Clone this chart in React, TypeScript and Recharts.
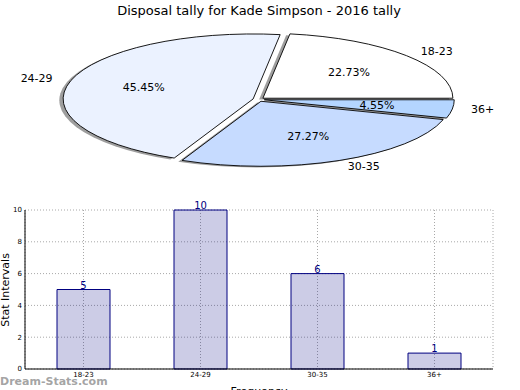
import React from 'react';
import { PieChart, Pie, Cell, BarChart, Bar, XAxis, YAxis, CartesianGrid, LabelList } from 'recharts';

const categories = ['18-23', '24-29', '30-35', '36+'];
const tallies = [5, 10, 6, 1];
const yTicks = [0, 2, 4, 6, 8, 10];
const pieColors = ['#ffffff', '#ebf2ff', '#c6dbff', '#b4d5ff'];

const chartData = categories.map((name, i) => ({ name, value: tallies[i] }));

const FONT = 'DejaVu Sans, Verdana, sans-serif';
const CX = 258.6;
const CY = 99.5;
const RX = 190;
const RY = 65;
const EXPLODE = 0.03;

const rad = Math.PI / 180;

function ellipsePath(cx: number, cy: number, a0: number, a1: number) {
  const s = Math.min(a0, a1);
  const e = Math.max(a0, a1);
  const x0 = cx + RX * Math.cos(s * rad);
  const y0 = cy - RY * Math.sin(s * rad);
  const x1 = cx + RX * Math.cos(e * rad);
  const y1 = cy - RY * Math.sin(e * rad);
  const large = e - s > 180 ? 1 : 0;
  return `M${cx},${cy} L${x0},${y0} A${RX},${RY} 0 ${large} 0 ${x1},${y1} Z`;
}

function offsetFor(mid: number) {
  return { ox: EXPLODE * RX * Math.cos(mid * rad), oy: -EXPLODE * RY * Math.sin(mid * rad) };
}

const renderSector = (p: any) => {
  const mid = (p.startAngle + p.endAngle) / 2;
  const { ox, oy } = offsetFor(mid);
  return (
    <path
      d={ellipsePath(p.cx + ox, p.cy + oy, p.startAngle, p.endAngle)}
      fill={p.fill}
      stroke="#000"
      strokeWidth={0.9}
      strokeLinejoin="miter"
    />
  );
};

const renderShadow = (p: any) => {
  const mid = (p.startAngle + p.endAngle) / 2;
  const { ox, oy } = offsetFor(mid);
  return (
    <path
      d={ellipsePath(p.cx + ox - 3.8, p.cy + oy + 1.3, p.startAngle, p.endAngle)}
      fill="#000"
      fillOpacity={0.38}
      stroke="none"
    />
  );
};

const renderLabel = (p: any) => {
  const mid = p.midAngle;
  const c = Math.cos(mid * rad);
  const s = Math.sin(mid * rad);
  const { ox, oy } = offsetFor(mid);
  const lx = p.cx + ox + 1.1 * RX * c;
  const ly = p.cy + oy - 1.1 * RY * s;
  const px = p.cx + ox + 0.6 * RX * c;
  const py = p.cy + oy - 0.6 * RY * s;
  return (
    <g>
      <text x={lx} y={ly} textAnchor={c > 0 ? 'start' : 'end'} dominantBaseline="central" fontSize={11} fill="#000" fontFamily={FONT}>
        {p.name}
      </text>
      <text x={px} y={py} textAnchor="middle" dominantBaseline="central" fontSize={11} fill="#000" fontFamily={FONT}>
        {`${(p.percent * 100).toFixed(2)}%`}
      </text>
    </g>
  );
};

export default function App() {
  return (
    <div style={{ position: 'fixed', left: 0, top: 0, width: 520, height: 390, background: '#fff', fontFamily: FONT, overflow: 'hidden' }}>
      <div style={{ position: 'absolute', left: 0, top: 0 }}>
        <PieChart width={520} height={195} margin={{ top: 0, right: 0, bottom: 0, left: 0 }}>
          <Pie
            data={chartData}
            dataKey="value"
            nameKey="name"
            cx={CX}
            cy={CY}
            outerRadius={RX}
            startAngle={0}
            endAngle={360}
            isAnimationActive={false}
            shape={renderShadow}
            inactiveShape={renderShadow}
            activeShape={renderShadow}
            label={false}
            labelLine={false}
          >
            {chartData.map((d, i) => (
              <Cell key={`s${i}`} fill="#000" />
            ))}
          </Pie>
          <Pie
            data={chartData}
            dataKey="value"
            nameKey="name"
            cx={CX}
            cy={CY}
            outerRadius={RX}
            startAngle={0}
            endAngle={360}
            isAnimationActive={false}
            shape={renderSector}
            inactiveShape={renderSector}
            activeShape={renderSector}
            label={renderLabel}
            labelLine={false}
          >
            {chartData.map((d, i) => (
              <Cell key={`c${i}`} fill={pieColors[i]} />
            ))}
          </Pie>
        </PieChart>
      </div>
      <div style={{ position: 'absolute', left: 0, top: 195 }}>
        <BarChart width={520} height={195} data={chartData} margin={{ top: 15, right: 27, bottom: 0, left: 0 }} barSize={53}>
          <CartesianGrid stroke="#a8a8a8" strokeDasharray="1 2" />
          <XAxis
            dataKey="name"
            height={21}
            tickLine={false}
            tickSize={0}
            tickMargin={3}
            interval={0}
            axisLine={{ stroke: '#000' }}
            tick={{ fontSize: 7, fill: '#000' }}
          />
          <XAxis xAxisId="top" dataKey="name" orientation="top" height={0} tick={false} tickLine={false} axisLine={{ stroke: '#000' }} />
          <YAxis
            domain={[0, 10]}
            ticks={yTicks}
            width={25}
            tickLine={false}
            tickSize={0}
            tickMargin={3}
            axisLine={{ stroke: '#000' }}
            tick={{ fontSize: 7, fill: '#000' }}
          />
          <YAxis yAxisId="right" orientation="right" domain={[0, 10]} width={0} tick={false} tickLine={false} axisLine={{ stroke: '#000' }} />
          <Bar dataKey="value" fill="#000080" fillOpacity={0.2} stroke="#000080" strokeWidth={1} isAnimationActive={false}>
            <LabelList dataKey="value" position="top" offset={1} fill="#000080" stroke="none" fontSize={10} />
          </Bar>
        </BarChart>
      </div>
      <svg width={520} height={390} style={{ position: 'absolute', left: 0, top: 0, pointerEvents: 'none' }}>
        <text x={259} y={10} textAnchor="middle" dominantBaseline="central" fontSize={13} fill="#000" fontFamily={FONT}>
          Disposal tally for Kade Simpson - 2016 tally
        </text>
        <text x={5} y={290} textAnchor="middle" dominantBaseline="central" fontSize={11} fill="#000" fontFamily={FONT} transform="rotate(-90 5 290)">
          Stat Intervals
        </text>
        <text x={259} y={395} textAnchor="middle" fontSize={11} fill="#000" fontFamily={FONT}>
          Frequency
        </text>
        <text x={0} y={385} textAnchor="start" fontSize={11} fontWeight="bold" fill="#999999" fillOpacity={0.9} fontFamily={FONT}>
          Dream-Stats.com
        </text>
      </svg>
    </div>
  );
}
